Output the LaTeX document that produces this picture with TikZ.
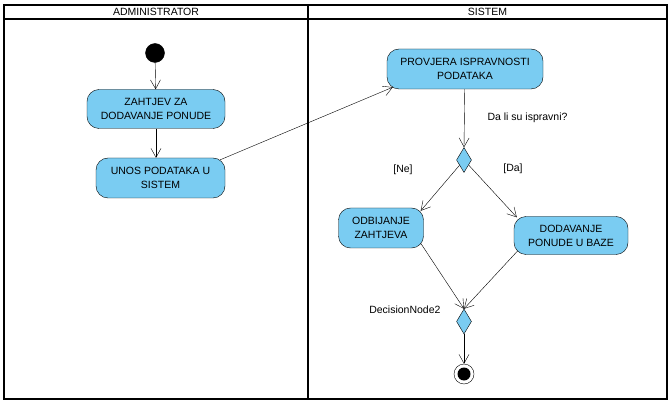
\documentclass[tikz,border=0pt]{standalone}
\usepackage{fontspec}
\setmainfont{Liberation Sans}
\usetikzlibrary{shapes.geometric,arrows.meta,positioning,calc}
\definecolor{actblue}{RGB}{122,204,242}
\tikzset{
	action/.style = {draw, fill=actblue, rectangle, rounded corners=12pt, align=center, inner sep=2pt},
	decision/.style = {draw, fill=actblue, diamond, minimum width=15pt, minimum height=25pt, inner sep=0pt},
	initial/.style = {draw, fill=black, circle, minimum size=19pt, inner sep=0pt},
	final/.style = {draw, fill=white, circle, minimum size=20pt, inner sep=0pt, path picture={\fill[black] (path picture bounding box.center) circle (6.5pt);}},
	lane/.style = {draw, line width=1.6pt},
	guard/.style = {draw=none, font=\fontsize{10.5}{12}\selectfont}
}

\begin{document}
\begin{tikzpicture}[x=1pt, y=-1pt, >={Straight Barb[length=9pt,width=10pt]}, font=\fontsize{10.5}{14}\selectfont]
		\useasboundingbox (0,0) rectangle (672,406);
		% swimlanes
		\draw [lane] (4,5) rectangle (667,399);
		\draw [lane] (4,19) -- (667,19);
		\draw [lane] (308,5) -- (308,399);
		\node [guard] (admin) at (156,12) {ADMINISTRATOR};
		\node [guard] (sistem) at (487.5,12) {SISTEM};
		% nodes
		\node [initial] (start) at (155,53) {};
		\node [action, minimum width=138pt, minimum height=39pt] (zahtjev) at (156,109) {ZAHTJEV ZA\\DODAVANJE PONUDE};
		\node [action, minimum width=129pt, minimum height=40pt] (unos) at (160.5,178) {UNOS PODATAKA U\\SISTEM};
		\node [action, minimum width=156pt, minimum height=40pt] (provjera) at (465,69) {PROVJERA ISPRAVNOSTI\\PODATAKA};
		\node [decision] (odluka1) at (464,160) {};
		\node [action, minimum width=85pt, minimum height=40pt] (odbijanje) at (381,228) {ODBIJANJE\\ZAHTJEVA};
		\node [action, minimum width=114pt, minimum height=38pt] (dodavanje) at (571,235.5) {DODAVANJE\\PONUDE U BAZE};
		\node [decision] (odluka2) at (464,321.5) {};
		\node [final] (kraj) at (464,374) {};
		% labels
		\node [guard, anchor=west] (pitanje) at (484,118) {Da li su ispravni?};
		\node [guard] (ne) at (403,169.5) {[Ne]};
		\node [guard] (da) at (513,168.5) {[Da]};
		\node [guard, anchor=east] (dn2) at (444,309.5) {DecisionNode2};
		% flows
		\draw [->] (start) -- (zahtjev);
		\draw [->] (zahtjev) -- (unos.north -| zahtjev);
		\draw [->] ($(unos.north east)+(-5,2)$) -- ($(provjera.south west)+(6,-2)$);
		\draw [->] (provjera) -- (odluka1.north);
		\draw [->] (odluka1) -- ($(odbijanje.north east)+(-3,3)$);
		\draw [->] (odluka1) -- ($(dodavanje.north west)+(3,1)$);
		\draw [->] ($(odbijanje.south east)+(-3,-5)$) -- (odluka2.north);
		\draw [->] ($(dodavanje.south west)+(4,-4)$) -- (odluka2.north);
		\draw [->] (odluka2) -- (kraj);
\end{tikzpicture}
\end{document}
